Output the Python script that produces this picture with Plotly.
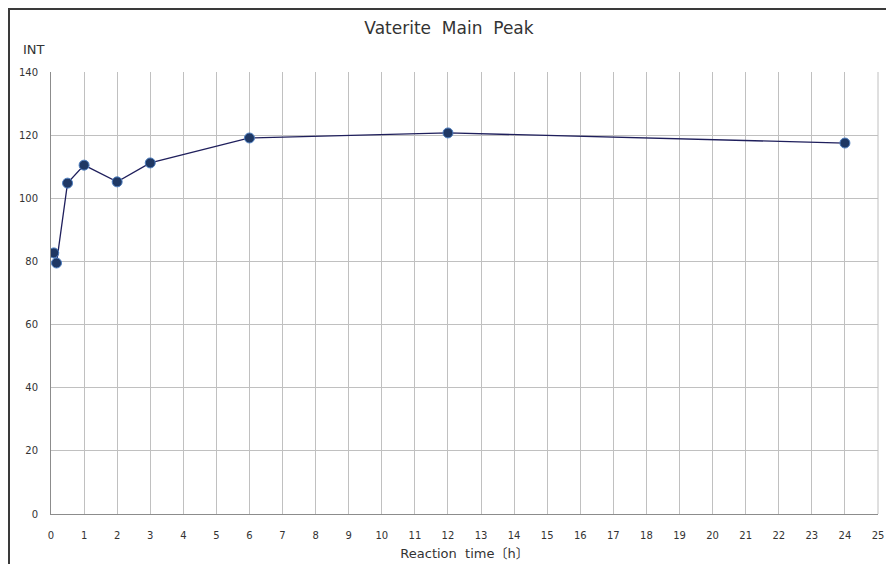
import plotly.graph_objects as go

time_h = [0.083, 0.167, 0.5, 1, 2, 3, 6, 12, 24]
intensity = [82.7, 79.5, 104.8, 110.5, 105.2, 111.2, 119.1, 120.7, 117.5]
x_ticks = list(range(0, 26))
y_ticks = list(range(0, 141, 20))

FONT = "DejaVu Sans, Noto Sans CJK JP, sans-serif"

# page offset (body margin) of 8px; plot area in screen px: x 51..878, y 72..514
OFF = 8
W, H = 894 - OFF, 564 - OFF
SL, SR, ST, SB = 51, 878, 72, 514
l, r, t, b = SL - OFF, (OFF + W) - SR, ST - OFF, (OFF + H) - SB
pw, ph = SR - SL, SB - ST

def px(xs):
    return (xs - SL) / pw

def py(ys):
    return (SB - ys) / ph

fig = go.Figure()
fig.add_trace(go.Scatter(
    x=time_h, y=intensity, mode="lines+markers",
    line=dict(color="#1f1f5c", width=1.3),
    marker=dict(size=10, color="#1f3864", line=dict(color="#4f7fc0", width=1)),
    showlegend=False,
))

x0f, x1f, ytf, ybf = px(9), px(890), py(9), py(600)
frame_path = f"M {x0f} {ybf} L {x0f} {ytf} L {x1f} {ytf} L {x1f} {ybf}"

fig.update_layout(
    width=W, height=H,
    margin=dict(l=l, r=r, t=t, b=b, autoexpand=False),
    paper_bgcolor="white", plot_bgcolor="white",
    font=dict(family=FONT, size=10, color="#333333"),
    title=dict(text="Vaterite&nbsp; Main&nbsp; Peak", x=px(449), xanchor="center",
               xref="paper", y=1 - (28 - OFF) / H, yanchor="middle",
               font=dict(family=FONT, size=17, color="#333333")),
    xaxis=dict(range=[0, 25], tickvals=x_ticks, ticktext=[str(v) for v in x_ticks],
               showgrid=True, gridcolor="#c0c0c0", gridwidth=1,
               showline=True, linecolor="#8c8c8c", linewidth=1,
               zeroline=False, ticks="", ticklen=0, ticklabelstandoff=12,
               automargin=False,
               title=dict(text="Reaction&nbsp; time〔h〕", standoff=8,
                          font=dict(family=FONT, size=13, color="#333333")),
               fixedrange=True),
    yaxis=dict(range=[0, 140], tickvals=y_ticks,
               showgrid=True, gridcolor="#c0c0c0", gridwidth=1,
               showline=True, linecolor="#8c8c8c", linewidth=1,
               zeroline=False, ticks="", ticklabelstandoff=10,
               automargin=False,
               fixedrange=True),
    shapes=[
        dict(type="line", xref="paper", yref="paper", x0=1, x1=1, y0=0, y1=1,
             line=dict(color="#c0c0c0", width=1)),
        dict(type="path", xref="paper", yref="paper", path=frame_path,
             line=dict(color="#3a3a3a", width=2), layer="above"),
    ],
    annotations=[
        dict(text="INT", xref="paper", yref="paper", x=px(21), y=py(50),
             xanchor="left", yanchor="middle", showarrow=False,
             font=dict(family=FONT, size=13, color="#333333")),
    ],
)

fig.write_html("out.html")
